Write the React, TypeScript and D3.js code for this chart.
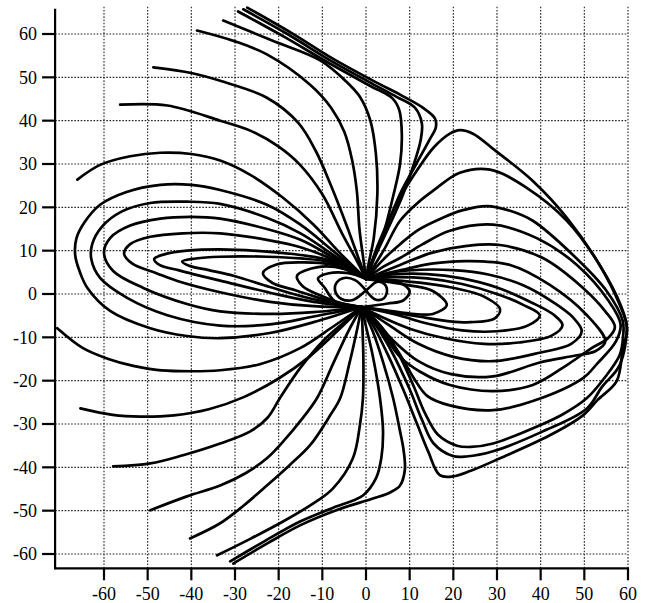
import React from "react";
import * as d3 from "d3";

type Pt = [number, number];

// tick labels
const xTicks = [-60, -50, -40, -30, -20, -10, 0, 10, 20, 30, 40, 50, 60];
const yTicks = [-60, -50, -40, -30, -20, -10, 0, 10, 20, 30, 40, 50, 60];

// axis extents
const xLeft = -71.2;
const xRight = 60;
const yBottom = -63.3;
const yTop = 65.8;

// lines leaving the upper node through the top edge
const topA: Pt[] = [[-27.2, 66.1], [-17, 60.2], [-7.6, 54.3], [2, 49], [7.8, 46], [13, 43], [15.8, 40.5], [16, 38.5], [14.5, 35.5], [11.5, 30], [8, 23.5], [4.5, 15], [1.5, 7.5], [0, 3.5]];
const topB: Pt[] = [[-28.1, 65.7], [-18, 60], [-8, 53.8], [1.5, 48.5], [7, 45.5], [11.2, 43], [12.8, 39.3], [12.5, 35.4], [10.8, 29.5], [8.3, 22.5], [5, 15], [1.8, 8], [0, 3.5]];
const topC: Pt[] = [[-29.3, 65.2], [-19, 59.5], [-8.5, 53.3], [1, 48], [6, 45.2], [7.6, 42.5], [8.2, 37], [7.8, 30], [6.2, 22.5], [4, 14], [1.5, 7.5], [0, 3.5]];
const topD: Pt[] = [[-32.7, 63.1], [-21.5, 58.5], [-10.5, 53.9], [-4.5, 49], [-1.4, 45.5], [1, 40], [2.3, 32], [2.6, 23], [1.8, 13], [0.6, 7], [0, 3.5]];
const topE: Pt[] = [[-38.7, 60.8], [-30, 58.3], [-22.7, 55.3], [-12.8, 48.3], [-8, 43], [-5, 37.5], [-3.2, 31], [-2.1, 23.8], [-1.5, 15], [-0.6, 8], [0, 3.5]];
const topF: Pt[] = [[-48.7, 52.3], [-40, 51], [-33.4, 49.2], [-22.7, 45.3], [-15.5, 39.5], [-11.5, 33], [-8, 25], [-4.5, 16], [-1.8, 8.5], [0, 3.5]];
const topG: Pt[] = [[-56.3, 43.7], [-45.5, 43.5], [-33.4, 40], [-26.5, 37.7], [-20, 34], [-15.1, 29.8], [-10, 23], [-5.5, 14], [-2, 7.5], [0, 3.5]];
const topH: Pt[] = [[-66.1, 26.4], [-60.9, 29.8], [-54, 31.8], [-47.1, 32.6], [-40, 32.3], [-33.4, 30.8], [-26.5, 27.5], [-19, 22.2], [-12, 16], [-6, 9.5], [0, 3.5]];

// loops on the left, upper node -> lower node
const loopL1: Pt[] = [[0, 3.5], [-8.2, 10.5], [-15, 16], [-22.7, 20.6], [-33.4, 24], [-40, 25.2], [-47.1, 25.2], [-55, 23.5], [-60.9, 20.6], [-64.5, 16.5], [-66.3, 12.9], [-66.6, 9], [-65.5, 5], [-63.8, 1.4], [-58.6, -3.9], [-49.4, -7.9], [-41, -9.7], [-33.4, -10.2], [-22, -9], [-12, -6.5], [-1, -3]];
const loopL2: Pt[] = [[0, 3.5], [-8.2, 9.5], [-15, 14], [-22.7, 17.6], [-33.4, 20.8], [-41, 21.3], [-49.4, 21], [-56, 19], [-60.5, 15.5], [-62.7, 11.5], [-62.9, 8], [-60.9, 3.7], [-54.7, -0.9], [-45.5, -4.9], [-33.4, -7.3], [-22, -7], [-12, -5.2], [-1, -3]];
const loopL3: Pt[] = [[0, 3.5], [-8.2, 8.8], [-15, 12.5], [-22.7, 15], [-33.4, 17.4], [-40, 17.8], [-47.1, 17.4], [-54, 15.8], [-58.5, 13], [-60, 9.5], [-57.9, 5.3], [-51, 1.4], [-41, -2.3], [-33.4, -4], [-22, -4.6], [-12, -4.2], [-1, -3]];
const loopL4: Pt[] = [[0, 3.5], [-8.2, 8.2], [-15, 10.8], [-22.7, 12.5], [-33.4, 14], [-42, 14], [-49.4, 13.2], [-54, 11.5], [-55.4, 9.3], [-53.5, 7], [-48, 4.8], [-43.2, 3], [-33.4, 0.4], [-22, -1.8], [-12, -2.8], [-1, -3]];
const loopL5: Pt[] = [[0, 3.5], [-8.2, 7.7], [-15, 9], [-22.7, 9.8], [-33.4, 10.3], [-41, 10], [-46, 9.2], [-48.5, 8.1], [-47.3, 6.7], [-43, 5.5], [-39.6, 4.6], [-33.4, 3.1], [-22, 0.3], [-12, -1.8], [-1, -3]];
const loopL6: Pt[] = [[0, 3.5], [-8.2, 7.3], [-15, 8.2], [-22.7, 8.6], [-33.4, 8.6], [-39, 8.2], [-42.1, 7.5], [-40.5, 6.5], [-36, 5.5], [-30, 4.1], [-22, 1.6], [-12, -1.2], [-1, -3]];
const loopL7: Pt[] = [[0, 3.5], [-8, 6.8], [-15, 7.3], [-20.5, 6.8], [-23.6, 4.8], [-21.5, 2.6], [-16, 0.8], [-9, -1.4], [-1, -3]];
const loopL8: Pt[] = [[0, 3.5], [-5, 5.8], [-11, 6.2], [-15.8, 4.2], [-14.5, 1.8], [-10, -0.5], [-5, -2.3], [-1, -3]];
const loopL9: Pt[] = [[0, 3.5], [-4, 4.8], [-8.5, 4.8], [-11, 3.6], [-9.5, 1.5], [-7, -1.8], [-3, -2.8], [-1, -3]];

// loops on the right, upper node -> lower node
const loopR1: Pt[] = [[0, 3.5], [3, 12], [7.8, 22.2], [12, 29], [15.5, 33.8], [19.2, 37], [21.5, 37.8], [24.5, 37], [29.1, 33.5], [38.2, 26.1], [46, 17.6], [53.5, 6.7], [58.1, -2.5], [59.8, -7.9], [58.8, -12.8], [57.4, -20.1], [53, -24.5], [49.7, -28], [42.1, -32.6], [30.7, -37.9], [24, -40.8], [19.9, -42.1], [16.9, -41.8], [14.3, -36.5], [11.5, -29.5], [8.5, -22], [5, -14], [1.5, -7], [-1, -3]];
const loopR2: Pt[] = [[0, 3.5], [4, 10], [7.8, 16.9], [12, 21.2], [15.3, 23.8], [21.5, 28], [28.4, 28.7], [36.8, 24.5], [46, 16.9], [53.5, 6.7], [58.5, -3], [59.7, -7.5], [58.1, -16.4], [54, -21.5], [50.6, -26.4], [40.5, -31.7], [29.1, -36.3], [23, -37.5], [19.9, -37.4], [15.5, -34.5], [12.8, -29], [10, -22], [6, -13.5], [2, -6.8], [-1, -3]];
const loopR3: Pt[] = [[0, 3.5], [4, 8], [7.8, 11.5], [12, 14.8], [17.6, 17.6], [22, 19.3], [27.7, 20.3], [33, 19.2], [38.2, 16.9], [47.4, 9], [55.1, 0.7], [58.8, -6.2], [58.9, -9.5], [58.1, -14.1], [54.5, -19.5], [50.6, -24], [45, -27.8], [39.8, -30.3], [29.1, -34.5], [24, -35.3], [20.8, -35], [16.5, -32.5], [13.5, -27.5], [10.8, -21], [7, -13], [2.5, -6.5], [-1, -3]];
const loopR4: Pt[] = [[0, 3.5], [4, 6.3], [7.8, 8.3], [13, 11.5], [19.2, 14.6], [29.1, 16], [39.1, 12.9], [48.3, 6.7], [55.5, -1.5], [58.3, -7], [57.2, -11], [53, -16], [49.7, -19.4], [38.2, -24.7], [29.1, -26.8], [19.2, -25.7], [14, -23.5], [11, -19.5], [7.5, -13.5], [3.5, -7.5], [-1, -3]];
const loopR5: Pt[] = [[0, 3.5], [7.8, 6.7], [15, 9.5], [23.1, 11.1], [30.7, 11.3], [40.5, 8.3], [49.7, 1.4], [54.8, -4], [57, -7.6], [55.4, -10.2], [51.5, -12.6], [46, -16.4], [38.2, -21], [29.1, -22.4], [19.2, -21], [12.5, -18], [7.8, -14.5], [3.5, -8.5], [-1, -3]];
const loopR6: Pt[] = [[0, 3.5], [8, 5.5], [15, 7], [23.1, 7.6], [33, 6.7], [42.1, 2.1], [50.6, -4.9], [54.8, -11], [52.5, -13.2], [48, -14.2], [39.8, -15.8], [29.1, -19], [19.5, -18.5], [12, -15.5], [6, -10.5], [2, -6], [-1, -3]];
const loopR7: Pt[] = [[0, 3.5], [6, 5], [12.4, 5.6], [20, 5.5], [28, 4.5], [36, 2], [43, -2], [47.5, -5.5], [49.4, -8.6], [47, -11.5], [40, -13.5], [29.1, -15.5], [20, -14.5], [12, -11.5], [5, -7], [-1, -3]];
const loopR8: Pt[] = [[0, 3.5], [6, 4.5], [14, 4.6], [22, 3.6], [30, 1.5], [38, -2], [43, -4.8], [45, -7.2], [42.5, -9.6], [35, -11.2], [27, -11.5], [18, -10.2], [10, -8], [4, -5.5], [-1, -3]];
const loopR9: Pt[] = [[0, 3.5], [6, 3.9], [14, 3.6], [22, 2.3], [30, 0], [36, -2.5], [39.8, -4.9], [37, -7.3], [30, -8.6], [22, -8.4], [14, -6.8], [7, -4.8], [-1, -3]];
const loopR10: Pt[] = [[0, 3.5], [6, 3.2], [14, 2.4], [21, 1.2], [26.8, -0.5], [30.7, -3.5], [29.5, -5.6], [24, -6.5], [19.2, -6.3], [12, -5.2], [5, -4], [-1, -3]];
const loopR11: Pt[] = [[0, 3.5], [5, 2.8], [10, 2], [15.3, 0.7], [18.5, -2.5], [15.3, -4.6], [10, -4.5], [5, -3.8], [-1, -3]];
const loopR12: Pt[] = [[0, 3.5], [5, 3.2], [8.5, 2.2], [10, 0.5], [8.5, -1.5], [5, -2.2], [-1, -3]];

// small figure eight between the two nodes
const eight: Pt[] = [[0, 0.8], [-2.5, 3.2], [-5, 3.7], [-6.8, 2.5], [-7, 0.5], [-5.5, -1.2], [-3, -1.4], [0, 0.8], [2.5, 2.8], [4.2, 2.3], [4.8, 0.5], [3.8, -1.2], [2, -1.2], [0, 0.8]];

// lines entering the lower node from the left and bottom edges
const sideW: Pt[] = [[-70.7, -7.9], [-64.8, -12.5], [-59, -15], [-53.3, -16.6], [-48, -17.5], [-42.6, -17.8], [-33.4, -17.6], [-24.3, -16.2], [-15.1, -12.5], [-7.5, -7.5], [-1, -3]];
const botB1: Pt[] = [[-65.4, -26.4], [-58, -27.9], [-51.7, -28.3], [-44, -28], [-36, -26.6], [-28, -23.8], [-20, -19.5], [-13, -14.5], [-6.5, -8.5], [-1, -3]];
const botB2: Pt[] = [[-57.9, -39.8], [-49.4, -39.1], [-41.9, -37.2], [-33.4, -34.5], [-26.5, -31.7], [-22.5, -28.5], [-19.7, -24], [-15, -17], [-9.5, -10.5], [-5, -6.5], [-1, -3]];
const botB3: Pt[] = [[-49.4, -49.9], [-41, -46.7], [-33.4, -44.2], [-27.5, -41.3], [-22.7, -37.9], [-18.5, -33.5], [-15.1, -29.4], [-11.2, -24], [-7.5, -16], [-4, -8.5], [-1, -3]];
const botB4: Pt[] = [[-40.3, -56.4], [-33.4, -52.9], [-28, -48.8], [-22.7, -44.2], [-17.5, -39.5], [-12.8, -34.9], [-8.2, -28], [-5.9, -24], [-3.8, -16], [-2, -8], [-1, -3]];
const botB5: Pt[] = [[-34.1, -60.3], [-26.5, -56.5], [-19, -52.5], [-12.5, -48.6], [-7.6, -44.9], [-3, -37.9], [-1.4, -30.3], [-0.7, -24], [-0.6, -15], [-0.8, -8], [-1, -3]];
const botB6: Pt[] = [[-31.1, -61.7], [-23, -56.9], [-15.1, -52.5], [-7.5, -49.3], [-0.7, -46.5], [2.3, -42.5], [3.5, -37.9], [3.9, -31.7], [3.2, -24], [1.5, -14], [0, -7.5], [-1, -3]];
const botB7: Pt[] = [[-30.4, -62.2], [-22.5, -57.5], [-15.1, -53.4], [-6.5, -49.8], [1.6, -47.2], [5.5, -45.8], [7.8, -44.2], [8.9, -40.5], [8.6, -36], [7.8, -31.7], [6.2, -24], [4, -16], [1.5, -8.5], [-1, -3]];

const curves: Pt[][] = [
  topA, topB, topC, topD, topE, topF, topG, topH,
  loopL1, loopL2, loopL3, loopL4, loopL5, loopL6, loopL7, loopL8, loopL9,
  loopR1, loopR2, loopR3, loopR4, loopR5, loopR6, loopR7, loopR8, loopR9, loopR10, loopR11, loopR12,
  eight,
  sideW, botB1, botB2, botB3, botB4, botB5, botB6, botB7,
];

const W = 645;
const H = 603;

export default function App() {
  const x = d3.scaleLinear().domain([-60, 60]).range([104, 628]);
  const y = d3.scaleLinear().domain([-60, 60]).range([554, 34]);

  const line = d3
    .line<Pt>()
    .x((d) => x(d[0]))
    .y((d) => y(d[1]))
    .curve(d3.curveCatmullRom.alpha(0.5));

  const grid = { stroke: "#222", strokeWidth: 1.1, strokeDasharray: "1.6,1.6" };
  const labelStyle = { fontFamily: "'Liberation Serif', 'DejaVu Serif', serif", fontSize: 18 };

  return (
    <svg
      width={W}
      height={H}
      style={{ position: "absolute", left: 0, top: 0, background: "#fff" }}
    >
      {/* dotted grid */}
      {xTicks.map((t) => (
        <line key={"gx" + t} x1={x(t)} x2={x(t)} y1={y(yBottom)} y2={y(yTop) - 2} {...grid} />
      ))}
      {yTicks.map((t) => (
        <line key={"gy" + t} x1={x(xLeft)} x2={x(xRight)} y1={y(t)} y2={y(t)} {...grid} />
      ))}

      {/* field lines */}
      <g fill="none" stroke="#000" strokeWidth={2.7} strokeLinejoin="round" strokeLinecap="round">
        {curves.map((c, i) => (
          <path key={i} d={line(c) || ""} />
        ))}
      </g>

      {/* axes */}
      <g stroke="#000" strokeWidth={2.2}>
        <line x1={x(xLeft)} x2={x(xLeft)} y1={y(yTop)} y2={y(yBottom) + 1} />
        <line x1={x(xLeft) - 1} x2={x(xRight) + 1} y1={y(yBottom)} y2={y(yBottom)} />
        {yTicks.map((t) => (
          <line key={"ty" + t} x1={x(xLeft) - 13} x2={x(xLeft)} y1={y(t)} y2={y(t)} />
        ))}
        {xTicks.map((t) => (
          <line key={"tx" + t} x1={x(t)} x2={x(t)} y1={y(yBottom)} y2={y(yBottom) + 12} />
        ))}
      </g>

      <g fill="#000" style={labelStyle}>
        {yTicks.map((t) => (
          <text key={"ly" + t} x={x(xLeft) - 18} y={y(t)} dy="0.35em" textAnchor="end">
            {t}
          </text>
        ))}
        {xTicks.map((t) => (
          <text key={"lx" + t} x={x(t)} y={y(yBottom) + 32} textAnchor="middle">
            {t}
          </text>
        ))}
      </g>
    </svg>
  );
}
